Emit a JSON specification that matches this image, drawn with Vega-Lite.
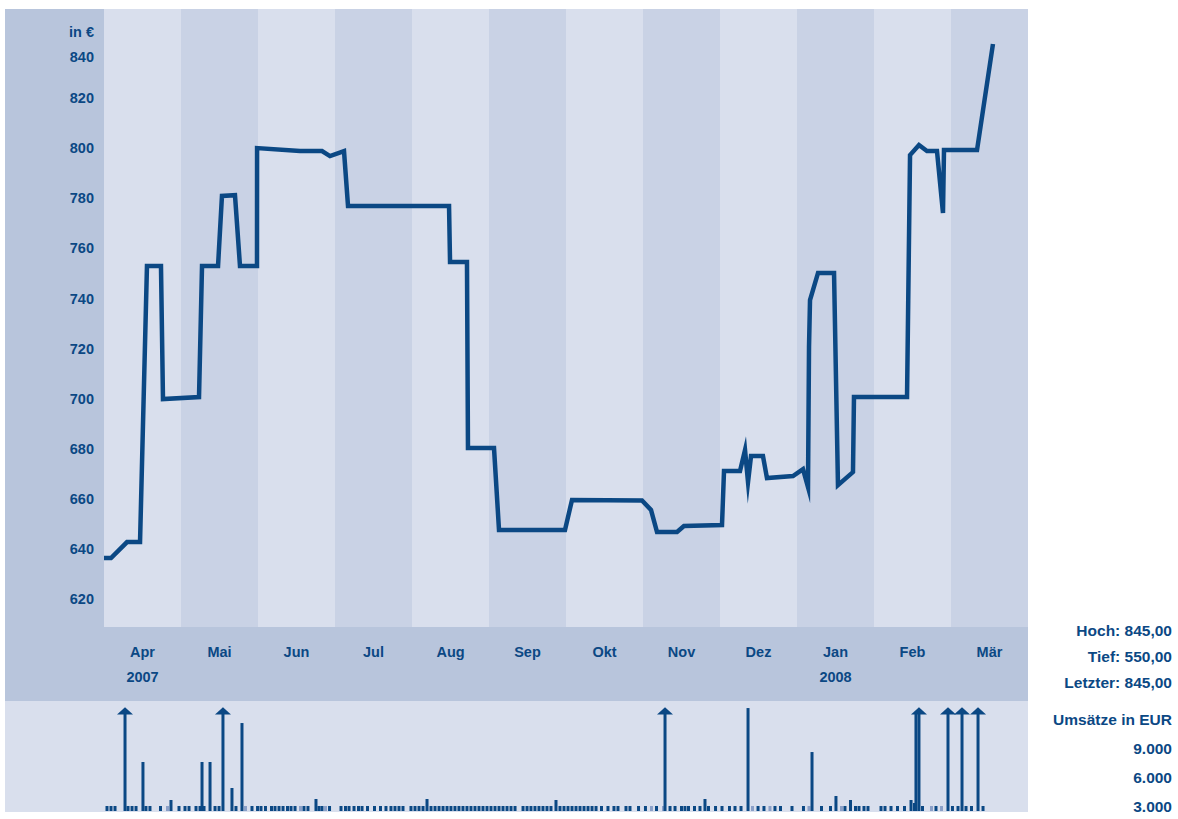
{
  "$schema": "https://vega.github.io/schema/vega-lite/v6.json",
  "width": 1178,
  "height": 819,
  "autosize": {"type": "fit", "contains": "padding"},
  "padding": 0,
  "background": "white",
  "config": {
    "view": {"stroke": null},
    "locale": {"number": {"decimal": ",", "thousands": ".", "grouping": [3], "currency": ["", " €"]}},
    "text": {"font": "Liberation Sans, Arial, sans-serif", "fontWeight": "bold", "fontSize": 14.5, "color": "#0b4884"}
  },
  "datasets": {
    "monate": [
      {"monat": "Apr", "m0": 0, "m1": 1, "jahr": "2007"},
      {"monat": "Mai", "m0": 1, "m1": 2, "jahr": ""},
      {"monat": "Jun", "m0": 2, "m1": 3, "jahr": ""},
      {"monat": "Jul", "m0": 3, "m1": 4, "jahr": ""},
      {"monat": "Aug", "m0": 4, "m1": 5, "jahr": ""},
      {"monat": "Sep", "m0": 5, "m1": 6, "jahr": ""},
      {"monat": "Okt", "m0": 6, "m1": 7, "jahr": ""},
      {"monat": "Nov", "m0": 7, "m1": 8, "jahr": ""},
      {"monat": "Dez", "m0": 8, "m1": 9, "jahr": ""},
      {"monat": "Jan", "m0": 9, "m1": 10, "jahr": "2008"},
      {"monat": "Feb", "m0": 10, "m1": 11, "jahr": ""},
      {"monat": "Mär", "m0": 11, "m1": 12, "jahr": ""}
    ],
    "kurs": [
      {"m": 0, "kurs": 636.5}, {"m": 0.091, "kurs": 636.5}, {"m": 0.299, "kurs": 642.9}, {"m": 0.468, "kurs": 642.9},
      {"m": 0.558, "kurs": 753.0}, {"m": 0.740, "kurs": 753.0}, {"m": 0.766, "kurs": 699.9}, {"m": 1.234, "kurs": 700.7},
      {"m": 1.273, "kurs": 753.0}, {"m": 1.481, "kurs": 753.0}, {"m": 1.532, "kurs": 780.9}, {"m": 1.701, "kurs": 781.2},
      {"m": 1.766, "kurs": 753.0}, {"m": 1.987, "kurs": 753.0}, {"m": 1.988, "kurs": 800.0}, {"m": 2.545, "kurs": 798.8},
      {"m": 2.831, "kurs": 798.8}, {"m": 2.935, "kurs": 796.8}, {"m": 3.117, "kurs": 798.8}, {"m": 3.169, "kurs": 776.9},
      {"m": 4.481, "kurs": 776.9}, {"m": 4.494, "kurs": 754.6}, {"m": 4.714, "kurs": 754.6}, {"m": 4.727, "kurs": 680.4},
      {"m": 5.065, "kurs": 680.4}, {"m": 5.130, "kurs": 647.7}, {"m": 5.987, "kurs": 647.7}, {"m": 6.078, "kurs": 659.7},
      {"m": 6.987, "kurs": 659.5}, {"m": 7.104, "kurs": 655.7}, {"m": 7.182, "kurs": 646.9}, {"m": 7.442, "kurs": 646.9},
      {"m": 7.532, "kurs": 649.3}, {"m": 8.026, "kurs": 649.7}, {"m": 8.052, "kurs": 671.2}, {"m": 8.260, "kurs": 671.2},
      {"m": 8.325, "kurs": 679.6}, {"m": 8.364, "kurs": 666.8}, {"m": 8.403, "kurs": 677.2}, {"m": 8.558, "kurs": 677.2},
      {"m": 8.610, "kurs": 668.4}, {"m": 8.948, "kurs": 669.2}, {"m": 9.078, "kurs": 672.0}, {"m": 9.143, "kurs": 664.8},
      {"m": 9.156, "kurs": 720.7}, {"m": 9.169, "kurs": 739.4}, {"m": 9.273, "kurs": 750.2}, {"m": 9.481, "kurs": 750.2},
      {"m": 9.532, "kurs": 665.6}, {"m": 9.727, "kurs": 670.8}, {"m": 9.740, "kurs": 700.7}, {"m": 10.429, "kurs": 700.7},
      {"m": 10.468, "kurs": 797.2}, {"m": 10.584, "kurs": 801.2}, {"m": 10.688, "kurs": 798.8}, {"m": 10.818, "kurs": 798.8},
      {"m": 10.896, "kurs": 774.1}, {"m": 10.909, "kurs": 799.2}, {"m": 11.338, "kurs": 799.2}, {"m": 11.545, "kurs": 841.5}
    ],
    "skala": [
      {"wert": 620}, {"wert": 640}, {"wert": 660}, {"wert": 680}, {"wert": 700}, {"wert": 720},
      {"wert": 740}, {"wert": 760}, {"wert": 780}, {"wert": 800}, {"wert": 820}, {"wert": 840}
    ],
    "umsatzskala": [{"wert": 3000}, {"wert": 6000}, {"wert": 9000}],
    "umsatz": [
      {"m": 0.039, "vol": 520}, {"m": 0.091, "vol": 520}, {"m": 0.143, "vol": 520}, {"m": 0.273, "vol": 10350, "kappe": true},
      {"m": 0.312, "vol": 520}, {"m": 0.364, "vol": 520}, {"m": 0.416, "vol": 520}, {"m": 0.506, "vol": 5070},
      {"m": 0.545, "vol": 520}, {"m": 0.597, "vol": 520}, {"m": 0.734, "vol": 520}, {"m": 0.825, "vol": 520, "typ": "b"},
      {"m": 0.870, "vol": 1140}, {"m": 0.974, "vol": 520}, {"m": 1.052, "vol": 520}, {"m": 1.104, "vol": 520},
      {"m": 1.195, "vol": 520}, {"m": 1.247, "vol": 520}, {"m": 1.273, "vol": 5070}, {"m": 1.299, "vol": 520},
      {"m": 1.377, "vol": 5070}, {"m": 1.442, "vol": 520}, {"m": 1.494, "vol": 520}, {"m": 1.545, "vol": 10350, "kappe": true},
      {"m": 1.662, "vol": 2380}, {"m": 1.714, "vol": 520}, {"m": 1.792, "vol": 9100}, {"m": 1.838, "vol": 520, "typ": "b"},
      {"m": 1.922, "vol": 520}, {"m": 1.994, "vol": 520}, {"m": 2.039, "vol": 520}, {"m": 2.097, "vol": 520},
      {"m": 2.175, "vol": 520}, {"m": 2.221, "vol": 520}, {"m": 2.273, "vol": 520}, {"m": 2.325, "vol": 520},
      {"m": 2.383, "vol": 520}, {"m": 2.429, "vol": 520}, {"m": 2.481, "vol": 520}, {"m": 2.552, "vol": 520, "typ": "b"},
      {"m": 2.597, "vol": 520}, {"m": 2.649, "vol": 520}, {"m": 2.753, "vol": 1240}, {"m": 2.792, "vol": 520},
      {"m": 2.831, "vol": 520}, {"m": 2.877, "vol": 520, "typ": "b"}, {"m": 2.929, "vol": 520}, {"m": 3.078, "vol": 520},
      {"m": 3.136, "vol": 520}, {"m": 3.182, "vol": 520}, {"m": 3.247, "vol": 520}, {"m": 3.305, "vol": 520},
      {"m": 3.351, "vol": 520}, {"m": 3.422, "vol": 520}, {"m": 3.513, "vol": 520}, {"m": 3.591, "vol": 520},
      {"m": 3.662, "vol": 520}, {"m": 3.727, "vol": 520}, {"m": 3.779, "vol": 520}, {"m": 3.831, "vol": 520},
      {"m": 3.883, "vol": 520}, {"m": 3.987, "vol": 520}, {"m": 4.039, "vol": 520}, {"m": 4.091, "vol": 520},
      {"m": 4.143, "vol": 520}, {"m": 4.195, "vol": 1240}, {"m": 4.247, "vol": 520}, {"m": 4.299, "vol": 520},
      {"m": 4.351, "vol": 520}, {"m": 4.403, "vol": 520}, {"m": 4.455, "vol": 520}, {"m": 4.506, "vol": 520},
      {"m": 4.558, "vol": 520}, {"m": 4.610, "vol": 520}, {"m": 4.662, "vol": 520}, {"m": 4.714, "vol": 520},
      {"m": 4.766, "vol": 520}, {"m": 4.818, "vol": 520}, {"m": 4.870, "vol": 520}, {"m": 4.922, "vol": 520},
      {"m": 4.974, "vol": 520}, {"m": 5.026, "vol": 520}, {"m": 5.078, "vol": 520}, {"m": 5.130, "vol": 520},
      {"m": 5.182, "vol": 520}, {"m": 5.234, "vol": 520}, {"m": 5.286, "vol": 520}, {"m": 5.338, "vol": 520},
      {"m": 5.442, "vol": 520}, {"m": 5.494, "vol": 520}, {"m": 5.545, "vol": 520}, {"m": 5.597, "vol": 520},
      {"m": 5.649, "vol": 520}, {"m": 5.701, "vol": 520}, {"m": 5.753, "vol": 520}, {"m": 5.805, "vol": 520},
      {"m": 5.870, "vol": 1140}, {"m": 5.922, "vol": 520}, {"m": 5.974, "vol": 520}, {"m": 6.026, "vol": 520},
      {"m": 6.078, "vol": 520}, {"m": 6.130, "vol": 520}, {"m": 6.182, "vol": 520}, {"m": 6.234, "vol": 520},
      {"m": 6.286, "vol": 520}, {"m": 6.338, "vol": 520}, {"m": 6.390, "vol": 520}, {"m": 6.461, "vol": 520},
      {"m": 6.545, "vol": 520}, {"m": 6.623, "vol": 520}, {"m": 6.675, "vol": 520}, {"m": 6.779, "vol": 520},
      {"m": 6.831, "vol": 520}, {"m": 6.942, "vol": 520}, {"m": 7.032, "vol": 520}, {"m": 7.110, "vol": 520, "typ": "b"},
      {"m": 7.175, "vol": 520}, {"m": 7.266, "vol": 520, "typ": "b"}, {"m": 7.286, "vol": 10350, "kappe": true}, {"m": 7.351, "vol": 520},
      {"m": 7.416, "vol": 520}, {"m": 7.500, "vol": 520}, {"m": 7.545, "vol": 520}, {"m": 7.591, "vol": 520},
      {"m": 7.669, "vol": 520}, {"m": 7.740, "vol": 520}, {"m": 7.805, "vol": 1240}, {"m": 7.851, "vol": 520},
      {"m": 7.942, "vol": 520}, {"m": 8.026, "vol": 520}, {"m": 8.123, "vol": 520}, {"m": 8.195, "vol": 520},
      {"m": 8.273, "vol": 520}, {"m": 8.364, "vol": 10650}, {"m": 8.422, "vol": 520, "typ": "b"}, {"m": 8.494, "vol": 520},
      {"m": 8.571, "vol": 520}, {"m": 8.649, "vol": 520, "typ": "b"}, {"m": 8.714, "vol": 520}, {"m": 8.786, "vol": 520},
      {"m": 8.935, "vol": 520}, {"m": 9.084, "vol": 520}, {"m": 9.156, "vol": 520, "typ": "b"}, {"m": 9.195, "vol": 6100},
      {"m": 9.318, "vol": 520}, {"m": 9.435, "vol": 520}, {"m": 9.506, "vol": 1550}, {"m": 9.578, "vol": 520, "typ": "b"},
      {"m": 9.623, "vol": 520}, {"m": 9.695, "vol": 1140}, {"m": 9.760, "vol": 520}, {"m": 9.805, "vol": 520},
      {"m": 9.870, "vol": 520}, {"m": 9.922, "vol": 520}, {"m": 10.091, "vol": 520}, {"m": 10.143, "vol": 520},
      {"m": 10.221, "vol": 520}, {"m": 10.305, "vol": 520}, {"m": 10.396, "vol": 520}, {"m": 10.481, "vol": 1140},
      {"m": 10.526, "vol": 830}, {"m": 10.545, "vol": 10100}, {"m": 10.584, "vol": 10350, "kappe": true}, {"m": 10.630, "vol": 520},
      {"m": 10.747, "vol": 520, "typ": "b"}, {"m": 10.805, "vol": 520}, {"m": 10.877, "vol": 520, "typ": "b"}, {"m": 10.961, "vol": 10350, "kappe": true},
      {"m": 11.019, "vol": 520}, {"m": 11.091, "vol": 520}, {"m": 11.143, "vol": 10350, "kappe": true}, {"m": 11.195, "vol": 520},
      {"m": 11.266, "vol": 520}, {"m": 11.351, "vol": 10350, "kappe": true}, {"m": 11.416, "vol": 520}
    ]
  },
  "layer": [
    {
      "layer": [
        {
          "data": {"name": "monate"},
          "mark": {"type": "rect"},
          "encoding": {
            "x": {"field": "m0", "type": "quantitative", "scale": {"domain": [-1.35065, 13.94805], "nice": false, "zero": false}, "axis": null},
            "x2": {"field": "m1"},
            "y": {"datum": 855.44, "type": "quantitative", "scale": {"domain": [532.47, 859.03], "nice": false, "zero": false}, "axis": null},
            "y2": {"datum": 609.03},
            "color": {"condition": {"test": "datum.m0 % 2 == 0", "value": "#d9dfed"}, "value": "#c9d2e5"}
          }
        },
        {
          "data": {"values": [{"bereich": "Skala"}]},
          "mark": {"type": "rect", "color": "#b8c5dc"},
          "encoding": {
            "x": {"datum": -1.2857, "type": "quantitative", "scale": {"domain": [-1.35065, 13.94805], "nice": false, "zero": false}, "axis": null},
            "x2": {"datum": 0},
            "y": {"datum": 855.44, "type": "quantitative", "scale": {"domain": [532.47, 859.03], "nice": false, "zero": false}, "axis": null},
            "y2": {"datum": 609.03}
          }
        },
        {
          "data": {"values": [{"bereich": "Monate"}]},
          "mark": {"type": "rect", "color": "#b8c5dc"},
          "encoding": {
            "x": {"datum": -1.2857, "type": "quantitative", "scale": {"domain": [-1.35065, 13.94805], "nice": false, "zero": false}, "axis": null},
            "x2": {"datum": 12},
            "y": {"datum": 609.03, "type": "quantitative", "scale": {"domain": [532.47, 859.03], "nice": false, "zero": false}, "axis": null},
            "y2": {"datum": 579.52}
          }
        },
        {
          "data": {"values": [{"bereich": "Umsatz"}]},
          "mark": {"type": "rect", "color": "#d9dfed"},
          "encoding": {
            "x": {"datum": -1.2857, "type": "quantitative", "scale": {"domain": [-1.35065, 13.94805], "nice": false, "zero": false}, "axis": null},
            "x2": {"datum": 12},
            "y": {"datum": 579.52, "type": "quantitative", "scale": {"domain": [532.47, 859.03], "nice": false, "zero": false}, "axis": null},
            "y2": {"datum": 535.26}
          }
        },
        {
          "data": {"name": "kurs"},
          "mark": {"type": "line", "color": "#0b4884", "strokeWidth": 4.5, "strokeJoin": "miter", "strokeMiterLimit": 10},
          "encoding": {
            "x": {"field": "m", "type": "quantitative", "scale": {"domain": [-1.35065, 13.94805], "nice": false, "zero": false}, "axis": null},
            "y": {"field": "kurs", "type": "quantitative", "scale": {"domain": [532.47, 859.03], "nice": false, "zero": false}, "axis": null}
          }
        },
        {
          "data": {"name": "skala"},
          "transform": [{"filter": "datum.wert != 840"}],
          "mark": {"type": "text", "align": "right", "baseline": "middle", "dy": 1},
          "encoding": {
            "x": {"datum": -0.1299, "type": "quantitative", "scale": {"domain": [-1.35065, 13.94805], "nice": false, "zero": false}, "axis": null},
            "y": {"field": "wert", "type": "quantitative", "scale": {"domain": [532.47, 859.03], "nice": false, "zero": false}, "axis": null},
            "text": {"field": "wert", "type": "quantitative", "format": "d"}
          }
        },
        {
          "data": {"name": "skala"},
          "transform": [{"filter": "datum.wert == 840"}],
          "mark": {"type": "text", "align": "right", "baseline": "middle", "dy": 10},
          "encoding": {
            "x": {"datum": -0.1299, "type": "quantitative", "scale": {"domain": [-1.35065, 13.94805], "nice": false, "zero": false}, "axis": null},
            "y": {"field": "wert", "type": "quantitative", "scale": {"domain": [532.47, 859.03], "nice": false, "zero": false}, "axis": null},
            "text": {"field": "wert", "type": "quantitative", "format": "d"}
          }
        },
        {
          "data": {"values": [{"einheit": "in €"}]},
          "mark": {"type": "text", "align": "right", "baseline": "middle"},
          "encoding": {
            "x": {"datum": -0.1299, "type": "quantitative", "scale": {"domain": [-1.35065, 13.94805], "nice": false, "zero": false}, "axis": null},
            "y": {"datum": 846.0, "type": "quantitative", "scale": {"domain": [532.47, 859.03], "nice": false, "zero": false}, "axis": null},
            "text": {"field": "einheit"}
          }
        },
        {
          "data": {"name": "monate"},
          "transform": [{"calculate": "(datum.m0 + datum.m1) / 2", "as": "mitte"}],
          "mark": {"type": "text", "align": "center", "baseline": "middle"},
          "encoding": {
            "x": {"field": "mitte", "type": "quantitative", "scale": {"domain": [-1.35065, 13.94805], "nice": false, "zero": false}, "axis": null},
            "y": {"datum": 598.78, "type": "quantitative", "scale": {"domain": [532.47, 859.03], "nice": false, "zero": false}, "axis": null},
            "text": {"field": "monat"}
          }
        },
        {
          "data": {"name": "monate"},
          "transform": [{"filter": "datum.jahr != ''"}, {"calculate": "(datum.m0 + datum.m1) / 2", "as": "mitte"}],
          "mark": {"type": "text", "align": "center", "baseline": "middle"},
          "encoding": {
            "x": {"field": "mitte", "type": "quantitative", "scale": {"domain": [-1.35065, 13.94805], "nice": false, "zero": false}, "axis": null},
            "y": {"datum": 588.69, "type": "quantitative", "scale": {"domain": [532.47, 859.03], "nice": false, "zero": false}, "axis": null},
            "text": {"field": "jahr"}
          }
        },
        {
          "data": {"values": [{"hoch": 845, "tief": 550, "letzter": 845}]},
          "mark": {
            "type": "text",
            "text": ["Hoch: 845,00", "Tief: 550,00", "Letzter: 845,00"],
            "align": "right", "baseline": "middle", "lineHeight": 26.3, "fontSize": 15.5
          },
          "encoding": {
            "x": {"datum": 13.8701, "type": "quantitative", "scale": {"domain": [-1.35065, 13.94805], "nice": false, "zero": false}, "axis": null},
            "y": {"datum": 607.55, "type": "quantitative", "scale": {"domain": [532.47, 859.03], "nice": false, "zero": false}, "axis": null}
          }
        }
      ]
    },
    {
      "layer": [
        {
          "data": {"name": "umsatz"},
          "mark": {"type": "rule", "strokeWidth": 3},
          "encoding": {
            "x": {"field": "m", "type": "quantitative", "scale": {"domain": [-1.35065, 13.94805], "nice": false, "zero": false}, "axis": null},
            "y": {"field": "vol", "type": "quantitative", "scale": {"domain": [-827.6, 83898], "nice": false, "zero": false}, "axis": null},
            "y2": {"datum": 0},
            "color": {"condition": {"test": "datum.typ == 'b'", "value": "#8ba0c8"}, "value": "#0b4884"}
          }
        },
        {
          "data": {"name": "umsatz"},
          "transform": [{"filter": "datum.kappe"}],
          "mark": {"type": "point", "shape": "M-1,0.45L0,-0.45L1,0.45Z", "filled": true, "size": 256, "opacity": 1, "color": "#0b4884", "strokeWidth": 0},
          "encoding": {
            "x": {"field": "m", "type": "quantitative", "scale": {"domain": [-1.35065, 13.94805], "nice": false, "zero": false}, "axis": null},
            "y": {"field": "vol", "type": "quantitative", "scale": {"domain": [-827.6, 83898], "nice": false, "zero": false}, "axis": null}
          }
        },
        {
          "data": {"name": "umsatzskala"},
          "mark": {"type": "text", "align": "right", "baseline": "middle", "dy": 25, "fontSize": 15.5},
          "encoding": {
            "x": {"datum": 13.8701, "type": "quantitative", "scale": {"domain": [-1.35065, 13.94805], "nice": false, "zero": false}, "axis": null},
            "y": {"field": "wert", "type": "quantitative", "scale": {"domain": [-827.6, 83898], "nice": false, "zero": false}, "axis": null},
            "text": {"field": "wert", "type": "quantitative", "format": ",d"}
          }
        },
        {
          "data": {"values": [{"titel": "Umsätze in EUR"}]},
          "mark": {"type": "text", "align": "right", "baseline": "middle", "fontSize": 15.5},
          "encoding": {
            "x": {"datum": 13.8701, "type": "quantitative", "scale": {"domain": [-1.35065, 13.94805], "nice": false, "zero": false}, "axis": null},
            "y": {"datum": 9414, "type": "quantitative", "scale": {"domain": [-827.6, 83898], "nice": false, "zero": false}, "axis": null},
            "text": {"field": "titel"}
          }
        }
      ]
    }
  ],
  "resolve": {"scale": {"y": "independent"}}
}
